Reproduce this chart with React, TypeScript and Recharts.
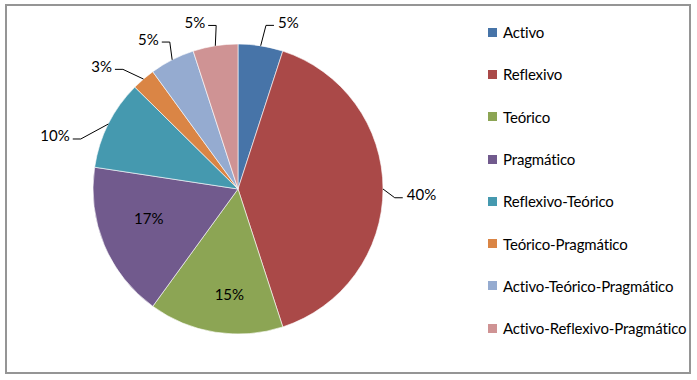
import { PieChart, Pie, Cell, Legend } from "recharts";

const categories = [
  "Activo",
  "Reflexivo",
  "Teórico",
  "Pragmático",
  "Reflexivo-Teórico",
  "Teórico-Pragmático",
  "Activo-Teórico-Pragmático",
  "Activo-Reflexivo-Pragmático",
];
const shares = [5, 40, 15, 17.4, 10, 2.6, 5, 5];
const colors = [
  "#4774a8",
  "#aa4948",
  "#8ca554",
  "#715a8d",
  "#4599af",
  "#da8545",
  "#95abd0",
  "#cf9394",
];

const data = categories.map((name, i) => ({ name, value: shares[i] }));

// label layout (Excel "best fit" look): which labels sit inside, and how each
// label is shifted [clockwise degrees, px beyond rim / px from centre inside]
const INSIDE = new Set([2, 3]);
const NUDGE: Record<number, [number, number]> = {
  0: [0.7, 21],
  1: [3.2, 12],
  2: [-4.3, 105],
  3: [4.4, 94],
  4: [-9, 20],
  5: [-3.2, 21],
  6: [2.1, 17],
  7: [1.4, 20],
};
const RAD = Math.PI / 180;
const FONT = "Lato, 'Open Sans', sans-serif";

function renderLabel(props: any) {
  const { cx, cy, midAngle, outerRadius, percent, index } = props;
  const text = `${Math.round(percent * 100)}%`;
  const [shift, ext] = NUDGE[index] ?? [0, 20];
  const a1 = midAngle - shift;
  if (INSIDE.has(index)) {
    return (
      <text
        x={cx + ext * Math.cos(-a1 * RAD)}
        y={cy + ext * Math.sin(-a1 * RAD)}
        textAnchor="middle"
        dominantBaseline="central"
        fill="#000"
        fontSize={15}
        fontFamily={FONT}
      >
        {text}
      </text>
    );
  }
  const sx = cx + outerRadius * Math.cos(-midAngle * RAD);
  const sy = cy + outerRadius * Math.sin(-midAngle * RAD);
  const ex = cx + (outerRadius + ext) * Math.cos(-a1 * RAD);
  const ey = cy + (outerRadius + ext) * Math.sin(-a1 * RAD);
  const right = Math.cos(midAngle * RAD) >= 0;
  const hx = ex + (right ? 8 : -8);
  const tx = hx + (right ? 4 : -3);
  return (
    <g>
      <polyline
        points={`${sx},${sy} ${ex},${ey} ${hx},${ey}`}
        fill="none"
        stroke="#000"
        strokeWidth={1}
      />
      <text
        x={tx}
        y={ey - 3.5}
        textAnchor={right ? "start" : "end"}
        dominantBaseline="central"
        fill="#000"
        fontSize={15}
        fontFamily={FONT}
      >
        {text}
      </text>
    </g>
  );
}

// keep the series order (the legend would otherwise sort by name)
const renderLegend = ({ payload }: any) => {
  const byName = new Map((payload ?? []).map((e: any) => [e.value, e]));
  return (
    <ul
      style={{
        listStyle: "none",
        margin: 0,
        padding: 0,
        fontFamily: FONT,
        fontSize: 15,
        letterSpacing: -0.15,
      }}
    >
      {categories.map((name, i) => {
        const entry: any = byName.get(name);
        return (
          <li key={name} style={{ display: "flex", alignItems: "center", height: 42.3, whiteSpace: "nowrap" }}>
            <span
              style={{
                display: "inline-block",
                width: 9,
                height: 9,
                marginRight: 6,
                background: colors[i],
              }}
            />
            <span style={{ color: "#000" }}>{entry?.value ?? name}</span>
          </li>
        );
      })}
    </ul>
  );
};

export default function App() {
  return (
    <div style={{ position: "absolute", left: 0, top: 0, width: 697, height: 380, background: "#fff" }}>
      <div
        style={{
          position: "absolute",
          left: 5,
          top: 4,
          width: 686,
          height: 370,
          border: "2px solid #959595",
          boxSizing: "border-box",
        }}
      />
      <PieChart
        width={697}
        height={380}
        margin={{ top: 0, right: 0, bottom: 0, left: 0 }}
        style={{ position: "absolute", left: 0, top: 0 }}
      >
        <Pie
          data={data}
          dataKey="value"
          nameKey="name"
          cx={238}
          cy={189}
          outerRadius={145}
          startAngle={90}
          endAngle={-270}
          stroke="#ffffff"
          strokeWidth={0.6}
          label={renderLabel}
          labelLine={false}
          isAnimationActive={false}
        >
          {data.map((d, i) => (
            <Cell key={d.name} fill={colors[i]} />
          ))}
        </Pie>
        <Legend
          layout="vertical"
          verticalAlign="top"
          align="right"
          content={renderLegend}
          wrapperStyle={{ left: 488, top: 11, width: 205 }}
        />
      </PieChart>
    </div>
  );
}
